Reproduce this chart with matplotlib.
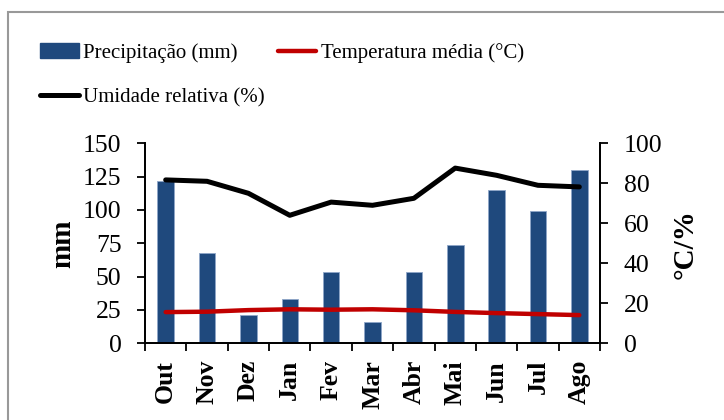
import matplotlib.pyplot as plt
import matplotlib.patches as mpatches
from matplotlib.lines import Line2D
import numpy as np

plt.rcParams['font.family'] = ['Liberation Serif', 'DejaVu Serif']

meses = ['Out', 'Nov', 'Dez', 'Jan', 'Fev', 'Mar', 'Abr', 'Mai', 'Jun', 'Jul', 'Ago']
precipitacao = [122, 67.5, 21, 33, 53.5, 15.7, 53.5, 73.7, 115, 99.5, 130]
temperatura = [15.6, 15.8, 16.6, 17.0, 16.8, 17.0, 16.5, 15.7, 15.1, 14.6, 14.1]
umidade = [81.7, 81.0, 75.0, 64.0, 70.6, 69.0, 72.5, 87.6, 84.0, 79.0, 78.2]

azul = '#1F497D'
vermelho = '#C00000'

fig = plt.figure(figsize=(7.24, 4.2), dpi=100)
ax = fig.add_axes([145/724, 1-343.3/420, 455/724, 200/420])
ax2 = ax.twinx()

x = np.arange(len(meses))
ax.bar(x, precipitacao, width=0.4, color=azul, edgecolor='#8EA6C8', linewidth=0.6, zorder=2)
ax2.plot(x, temperatura, color=vermelho, lw=3.2, solid_capstyle='round', zorder=3)
ax2.plot(x, umidade, color='black', lw=3.6, solid_capstyle='round', zorder=3)

ax.set_xlim(-0.5, len(meses)-0.5)
ax.set_ylim(0, 150)
ax2.set_ylim(0, 100)
ax.set_yticks(np.arange(0, 151, 25))
ax2.set_yticks(np.arange(0, 101, 20))

ax.set_xticks(x)
ax.set_xticklabels(meses, rotation=90, fontweight='bold', fontsize=18.5)
ax.tick_params(axis='x', length=0, pad=12)
ax.set_xticks(np.arange(-0.5, len(meses), 1), minor=True)
ax.tick_params(axis='x', which='minor', length=6, width=1.3, direction='out')
ax.tick_params(axis='y', labelsize=18.5, length=6, width=1.3, direction='out', pad=11)
ax2.tick_params(axis='y', labelsize=18.5, length=6, width=1.3, direction='out', pad=11)

for a in (ax, ax2):
    a.spines['top'].set_visible(False)
    for s in ('left', 'right', 'bottom'):
        a.spines[s].set_linewidth(1.3)
ax.set_zorder(ax2.get_zorder() - 1)
ax2.patch.set_visible(False)
ax.patch.set_visible(False)

fig.text(63/724, 1-244/420, 'mm', rotation=90, fontsize=21, fontweight='bold',
         ha='center', va='center')
fig.text(685/724, 1-244/420, '°C/%', rotation=90, fontsize=21, fontweight='bold',
         ha='center', va='center')

handles = [mpatches.Patch(color=azul),
           Line2D([], [], color='black', lw=3.6, solid_capstyle='round'),
           Line2D([], [], color=vermelho, lw=3.2, solid_capstyle='round')]
labels = ['Precipitação (mm)', 'Umidade relativa (%)', 'Temperatura média (°C)']
fig.legend(handles, labels, loc='upper left', bbox_to_anchor=(40/724, 1-43/420),
           ncol=2, frameon=False, fontsize=15, handlelength=1.85, handletextpad=0.2,
           columnspacing=0.65, labelspacing=1.18, borderpad=0, borderaxespad=0)

fig.patches.append(mpatches.Rectangle((8/724, -0.1), 2, 1-12/420+0.1,
                                      transform=fig.transFigure, fill=False,
                                      edgecolor='#999999', lw=1.5))

fig.savefig('out.png', dpi=100)
